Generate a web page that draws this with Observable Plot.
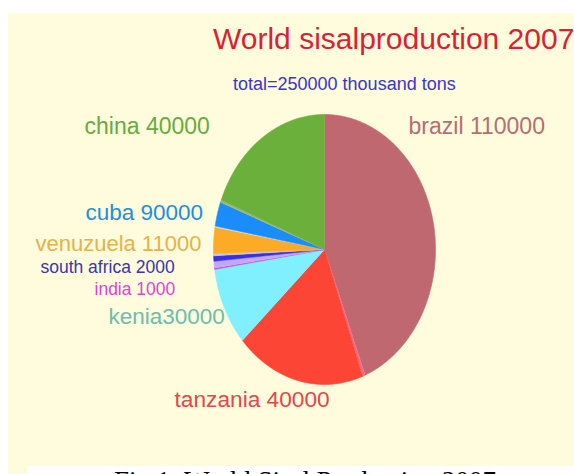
<!DOCTYPE html>
<html><head><meta charset="utf-8">
<script src="https://cdn.jsdelivr.net/npm/d3@7"></script>
<script src="https://cdn.jsdelivr.net/npm/@observablehq/plot@0.6"></script>
<style>
html,body{margin:0;padding:0;background:#fff;overflow:hidden;width:574px;height:474px}
#panel{position:absolute;left:8px;top:13px;width:566px;height:461px;background:#fefcdc}
#chart{position:absolute;left:0;top:0}
#title{position:absolute;left:205px;top:11px;font:30px/1 "Liberation Sans",Arial,sans-serif;color:#dc1f35;white-space:nowrap}
#subtitle{position:absolute;left:225px;top:62px;font:18px/1 "Liberation Sans",Arial,sans-serif;color:#3c34c8;white-space:nowrap}
#capbox{position:absolute;left:27px;top:466px;width:547px;height:30px;background:#fff}
#caption{position:absolute;left:87px;top:2px;font:27px/1 "Liberation Serif","Times New Roman",serif;color:#000;white-space:nowrap}
</style></head>
<body>
<div id="panel">
  <div id="chart"></div>
  <div id="title">World sisalproduction 2007</div>
  <div id="subtitle">total=250000 thousand tons</div>
</div>
<div id="capbox"><div id="caption">Fig.1: World Sisal Production 2007</div></div>
<script>
// slice values (thousand tons), clockwise from 12 o'clock
const sliceNames  = ["brazil","other1","tanzania","kenia","india","other2","south africa","other3","venuzuela","other4","cuba","other5","china"];
const sliceValues = [110, 1, 47, 23.5, 0.4, 2, 1.6, 0.7, 7.8, 0.3, 7.3, 0.7, 47.5];
const sliceColors = ["#c0686f","#f06a8a","#fc4535","#80f0fe","#c23ee0","#c4a8f8","#3a2ee8","#c8c8d8","#fdaa26","#d0e8ff","#1a8cfc","#9ab87a","#6cb03c"];

// label texts as printed on the chart
const labelTexts  = ["brazil 110000","china 40000","cuba 90000","venuzuela 11000","south africa 2000","india 1000","kenia30000","tanzania 40000"];
const labelColors = ["#b86c72","#6aaa3c","#1e8ee0","#e6b24a","#3a35b0","#dc46d0","#6cbcb0","#e0484a"];
// label layout (pie-radius units, left edge of text)
const labelX    = [0.757,-2.162,-2.153,-2.604,-2.559,-2.072,-1.946,-1.351];
const labelY    = [0.911, 0.911, 0.274, 0.044,-0.133,-0.296,-0.496,-1.111];
const labelSize = [23, 23, 22.5, 22, 17.5, 17.5, 22.5, 22.7];

const arcs = d3.pie().sort(null).value(d => d)(sliceValues);
const pts = [];
arcs.forEach((a, i) => {
  const key = sliceNames[i];
  const col = sliceColors[i];
  pts.push({k: key, c: col, x: 0, y: 0});
  const n = Math.max(2, Math.ceil((a.endAngle - a.startAngle) / 0.01));
  for (let j = 0; j <= n; j++) {
    const t = a.startAngle + (a.endAngle - a.startAngle) * j / n;
    pts.push({k: key, c: col, x: Math.sin(t), y: Math.cos(t)});
  }
});
const labels = labelTexts.map((t, i) => ({t, c: labelColors[i], x: labelX[i], y: labelY[i], s: labelSize[i]}));

const plot = Plot.plot({
  width: 566, height: 453,
  margin: 0,
  style: {background: "transparent", overflow: "visible"},
  x: {domain: [-1, 1], range: [205, 427], axis: null},
  y: {domain: [-1, 1], range: [371, 101], axis: null},
  color: {type: "identity"},
  marks: [
    Plot.line(pts, {x: "x", y: "y", z: "k", fill: "c", stroke: "c", strokeWidth: 0.6, curve: "linear"}),
    ...labels.map(l => Plot.text([l], {x: "x", y: "y", text: "t", fill: "c", textAnchor: "start", lineAnchor: "middle",
      fontSize: l.s, fontFamily: "Liberation Sans, Arial, sans-serif"}))
  ]
});
document.getElementById("chart").appendChild(plot);
</script>
</body></html>
